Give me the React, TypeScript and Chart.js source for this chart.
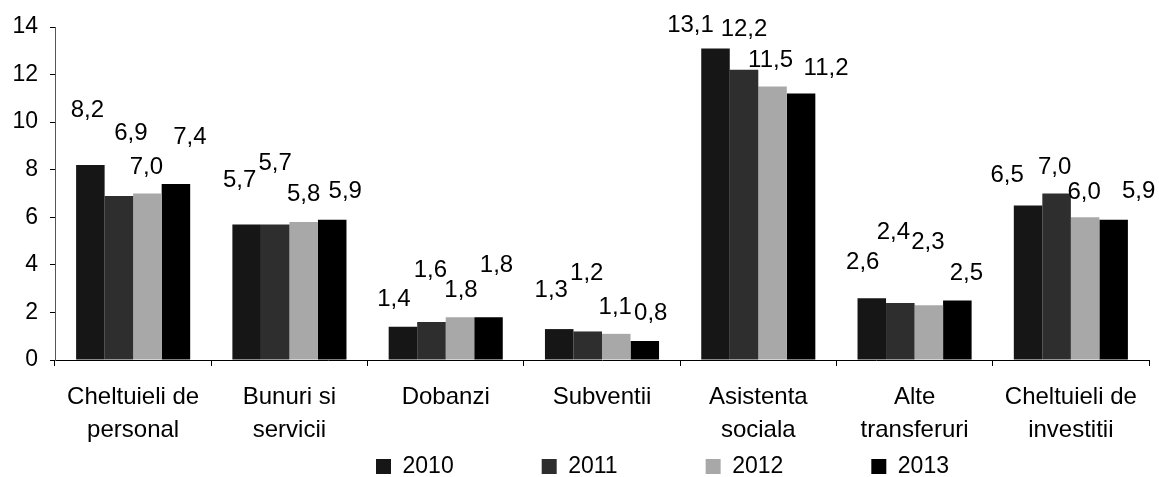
import React, { useEffect, useRef } from "react";
import { Chart, registerables } from "chart.js";

Chart.register(...registerables);

const categories: string[][] = [
  ["Cheltuieli de", "personal"],
  ["Bunuri si", "servicii"],
  ["Dobanzi"],
  ["Subventii"],
  ["Asistenta", "sociala"],
  ["Alte", "transferuri"],
  ["Cheltuieli de", "investitii"],
];

const seriesNames = ["2010", "2011", "2012", "2013"];

const values2010 = [8.2, 5.7, 1.4, 1.3, 13.1, 2.6, 6.5];
const values2011 = [6.9, 5.7, 1.6, 1.2, 12.2, 2.4, 7.0];
const values2012 = [7.0, 5.8, 1.8, 1.1, 11.5, 2.3, 6.0];
const values2013 = [7.4, 5.9, 1.8, 0.8, 11.2, 2.5, 5.9];

const yTicks = [0, 2, 4, 6, 8, 10, 12, 14];

// label offsets (px) relative to bar top, per series, per category
const labelDx = [
  [-3, -7, -9, -8, -25, -9, -21],
  [12, 0, -1, -1, 0, -7, -2],
  [-1, 0, 1, -1, -2, -1, -1],
  [14, 13, 8, 6, 25, 9, 25],
];
const labelDy = [
  [-55, -44, -27, -39, -23, -36, -30],
  [-63, -61, -52, -58, -40, -71, -26],
  [-26, -28, -27, -26, -26, -63, -25],
  [-47, -28, -52, -28, -25, -27, -28],
];

const colors = ["#161616", "#2e2e2e", "#a8a8a8", "#000000"];
const FONT = "'Liberation Sans', Arial, Helvetica, sans-serif";

const valueLabels = {
  id: "valueLabels",
  afterDatasetsDraw(chart: any) {
    const ctx = chart.ctx;
    ctx.save();
    ctx.font = `24px ${FONT}`;
    ctx.fillStyle = "#000";
    ctx.textAlign = "center";
    ctx.textBaseline = "middle";
    chart.data.datasets.forEach((ds: any, di: number) => {
      const meta = chart.getDatasetMeta(di);
      meta.data.forEach((el: any, i: number) => {
        const v = ds.data[i] as number;
        const txt = v.toFixed(1).replace(".", ",");
        ctx.fillText(txt, el.x + labelDx[di][i], el.y + labelDy[di][i]);
      });
    });
    ctx.restore();
  },
};

const legendPlace = {
  id: "legendPlace",
  afterLayout(chart: any) {
    const l = chart.legend;
    if (!l) return;
    const pad = l.options.labels.padding;
    l.left += pad;
    l.right += pad;
    l.top -= pad - 8;
  },
};

export default function App() {
  const ref = useRef<HTMLCanvasElement | null>(null);

  useEffect(() => {
    document.body.style.margin = "0";
    if (!ref.current) return;
    const all = [values2010, values2011, values2012, values2013];
    const chart = new Chart(ref.current, {
      type: "bar",
      data: {
        labels: categories,
        datasets: seriesNames.map((name, i) => ({
          label: name,
          data: all[i],
          backgroundColor: colors[i],
          borderWidth: 0,
          categoryPercentage: 0.73,
          barPercentage: 1.0,
        })),
      },
      options: {
        responsive: false,
        animation: false,
        layout: { padding: { top: 27, right: 10, left: 0, bottom: 0 } },
        plugins: {
          tooltip: { enabled: false },
          legend: {
            position: "bottom",
            maxHeight: 30,
            labels: {
              color: "#000",
              font: { family: FONT, size: 23 },
              boxWidth: 15,
              boxHeight: 15,
              padding: 88,
            },
          },
        },
        scales: {
          x: {
            grid: {
              display: true,
              drawOnChartArea: false,
              drawTicks: true,
              tickLength: 6,
              color: "#000",
              offset: true,
            },
            border: { display: true, color: "#000", width: 1 },
            ticks: {
              color: "#000",
              font: { family: FONT, size: 24, lineHeight: 1.38 },
              padding: 15,
              maxRotation: 0,
              autoSkip: false,
            },
            afterFit(scale: any) {
              scale.height = 87;
            },
          },
          y: {
            min: 0,
            max: 14,
            afterBuildTicks(scale: any) {
              scale.ticks = yTicks.map((v) => ({ value: v }));
            },
            grid: {
              display: true,
              drawOnChartArea: false,
              drawTicks: true,
              tickLength: 5,
              color: "#000",
            },
            border: { display: true, color: "#555", width: 1, dash: [4, 3] },
            ticks: {
              color: "#000",
              font: { family: FONT, size: 23 },
              padding: 12,
            },
            afterFit(scale: any) {
              scale.width = 55;
            },
          },
        },
      },
      plugins: [valueLabels, legendPlace],
    });
    return () => chart.destroy();
  }, []);

  return (
    <div style={{ width: 1159, height: 477, background: "#fff" }}>
      <canvas ref={ref} width={1159} height={477} />
    </div>
  );
}
